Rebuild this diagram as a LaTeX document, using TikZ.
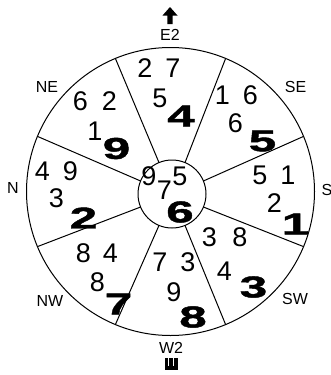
\documentclass[tikz,border=0pt]{standalone}
\usepackage{fontspec}
\setmainfont{Liberation Sans}
\newfontfamily\heavyfont{Liberation Sans Bold}[FakeStretch=1.65,FakeBold=1.5]
\begin{document}
\begin{tikzpicture}[x=1pt,y=-1pt,
  num/.style={font=\fontsize{27}{27}\selectfont, inner sep=0pt},
  big/.style={font=\heavyfont\fontsize{30}{30}\selectfont, inner sep=0pt},
  lab/.style={font=\fontsize{16}{16}\selectfont, inner sep=0pt},
  ring/.style={line width=1pt}]
\useasboundingbox (0,0) rectangle (331,375);
\coordinate (O) at (170.5,191.5);
\coordinate (C) at (172,194);
\draw[ring] (O) circle (144pt);
\draw[ring] (C) circle (34pt);
\foreach \a in {22.5,67.5,...,337.5}
  \draw[ring] ([shift={(\a:34)}]C) -- ([shift={(\a:144)}]O);
% top sector (E2)
\node[num] (e1) at (145,68) {2};
\node[num] (e2) at (173,68) {7};
\node[num] (e3) at (160,98) {5};
\node[big] (e4) at (181,116) {4};
% NE
\node[num] (ne1) at (80.5,101.5) {6};
\node[num] (ne2) at (109.5,101.5) {2};
\node[num] (ne3) at (95,131) {1};
\node[big] (ne4) at (116.5,148.5) {9};
% SE
\node[num] (se1) at (222.5,95) {1};
\node[num] (se2) at (250.5,95) {6};
\node[num] (se3) at (235.5,123) {6};
\node[big] (se4) at (262.5,141) {5};
% N
\node[num] (n1) at (42.5,171) {4};
\node[num] (n2) at (70.5,171) {9};
\node[num] (n3) at (56.5,198) {3};
\node[big] (n4) at (83.5,218) {2};
% S
\node[num] (s1) at (260,175) {5};
\node[num] (s2) at (288,175) {1};
\node[num] (s3) at (274.5,203) {2};
\node[big] (s4) at (295.5,224) {1};
% NW
\node[num] (nw1) at (83.5,253) {8};
\node[num] (nw2) at (110.5,253) {4};
\node[num] (nw3) at (97.5,282) {8};
\node[big] (nw4) at (118.5,304) {7};
% W2
\node[num] (w1) at (160,262) {7};
\node[num] (w2) at (188,262) {3};
\node[num] (w3) at (174,292) {9};
\node[big] (w4) at (193,317) {8};
% SW
\node[num] (sw1) at (209.5,237) {3};
\node[num] (sw2) at (240,237) {8};
\node[num] (sw3) at (224.5,271) {4};
\node[big] (sw4) at (253.5,287) {3};
% centre
\node[num] (c1) at (149,176) {9};
\node[num] (c2) at (180,176) {5};
\node[num] (c3) at (164.5,190) {7};
\node[big] (c4) at (180,212) {6};
% direction labels
\node[lab] (lE) at (170,35) {E2};
\node[lab] (lNE) at (47,87) {NE};
\node[lab] (lSE) at (295.5,87) {SE};
\node[lab] (lN) at (13,188) {N};
\node[lab] (lS) at (327,190) {S};
\node[lab] (lSW) at (295,299) {SW};
\node[lab] (lNW) at (50,301) {NW};
\node[lab] (lW) at (171,348) {W2};
% facing arrow
\fill (170,7) -- (177.5,15.5) -- (172.6,15.5) -- (172.6,24) -- (167.4,24)
  -- (167.4,15.5) -- (162.5,15.5) -- cycle;
% sitting symbol
\fill (164.5,358) rectangle (168,370);
\fill (169.3,358) rectangle (172.7,370);
\fill (174,358) rectangle (177.5,370);
\fill (164.5,366) rectangle (177.5,370);
\end{tikzpicture}
\end{document}
